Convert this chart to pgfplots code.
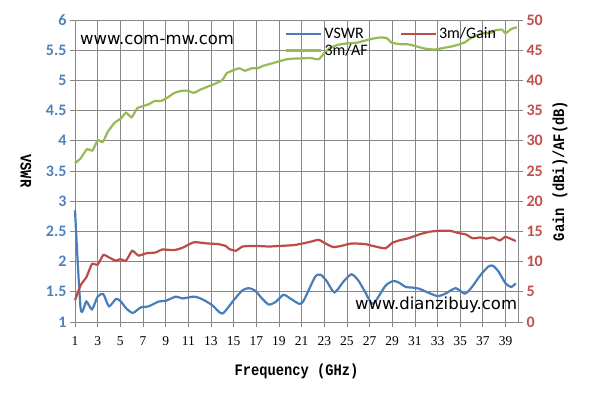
\documentclass[border=0pt]{standalone}
\usepackage{fontspec}
\setmainfont{Liberation Serif}
\newfontfamily\calibri{Carlito}
\newfontfamily\webfont{DejaVu Sans}
\newfontfamily\labfont[FakeStretch=0.86]{Liberation Mono}
\usepackage{pgfplots}
\pgfplotsset{compat=1.18}

\definecolor{vswrblue}{HTML}{4A7EBB}
\definecolor{gainred}{HTML}{BE4B48}
\definecolor{afgreen}{HTML}{98B954}
\definecolor{tickblue}{HTML}{4F81BD}
\definecolor{tickred}{HTML}{C0504D}
\definecolor{gridgray}{HTML}{868686}

\pgfplotsset{
  chartbase/.style={
    scale only axis, width=443bp, height=302bp,
    at={(0,0)}, anchor=south west,
    xmin=1, xmax=40.1, clip=false,
    tick align=outside, major tick length=5bp,
    axis line style={gridgray, line width=0.8bp},
    every tick/.style={gridgray, line width=0.8bp},
    /pgf/number format/assume math mode=true,
  },
}

\begin{document}
\begin{tikzpicture}
\useasboundingbox (-75bp,-82bp) rectangle (514bp,322bp);

% left axis: VSWR
\begin{axis}[chartbase,
    ymin=1, ymax=6,
    ytick={1,1.5,2,2.5,3,3.5,4,4.5,5,5.5,6},
    xtick={1,3,...,39},
    axis x line*=bottom, axis y line*=left,
    grid=major, major grid style={gridgray, line width=0.8bp},
    yticklabel style={font=\calibri\bfseries\fontsize{16bp}{16bp}\selectfont, text=tickblue},
    xticklabel style={font=\fontsize{13.5bp}{14bp}\selectfont, yshift=-6bp},
    xlabel={Frequency (GHz)},
    xlabel style={font=\labfont\bfseries\fontsize{16bp}{16bp}\selectfont,
        at={(axis description cs:0.5,-0.162)}, anchor=center},
    ylabel={VSWR},
    ylabel style={font=\labfont\bfseries\fontsize{16bp}{16bp}\selectfont,
        at={(axis description cs:-0.111,0.5)}, anchor=center, rotate=180},
]
\addplot[vswrblue, line width=2.2bp, smooth, tension=0.4] coordinates {
  (1,2.85) (1.5,1.22) (2,1.34) (2.5,1.21) (3,1.42) (3.5,1.46) (4,1.26)
  (4.6,1.38) (5,1.35) (5.5,1.23) (6.1,1.15) (6.8,1.24) (7.5,1.26)
  (8.4,1.34) (9,1.35) (9.9,1.42) (10.5,1.39) (11.5,1.42) (12.2,1.38)
  (13.1,1.28) (14,1.14) (15,1.36) (15.75,1.52) (16.3,1.56) (16.9,1.52)
  (17.5,1.39) (18.1,1.29) (18.7,1.33) (19.4,1.45) (20,1.39) (20.8,1.30)
  (21.2,1.36) (22.2,1.75) (22.7,1.78) (23.2,1.68) (23.9,1.49) (24.7,1.67)
  (25.4,1.79) (26,1.69) (26.6,1.5) (27.3,1.3) (28.4,1.6) (29.1,1.68)
  (29.6,1.65) (30.2,1.58) (30.8,1.57) (31.4,1.55) (32,1.5) (33,1.43)
  (33.7,1.47) (34.6,1.56) (35.4,1.47) (36,1.57) (36.8,1.78) (37.5,1.92)
  (37.9,1.93) (38.4,1.83) (39,1.64) (39.5,1.58) (39.9,1.64)
};
\end{axis}

% right axis: Gain and AF
\begin{axis}[chartbase,
    ymin=0, ymax=50, ytick={0,5,...,50},
    axis y line*=right, axis x line=none,
    yticklabel style={font=\calibri\bfseries\fontsize{16bp}{16bp}\selectfont, text=tickred},
    ylabel={Gain (dBi)/AF(dB)},
    ylabel style={font=\labfont\bfseries\fontsize{16bp}{16bp}\selectfont,
        at={(axis description cs:1.095,0.5)}, anchor=center},
    legend columns=2,
    legend cell align=left,
    legend image code/.code={\draw[#1, line width=2.4bp] (0bp,0bp) -- (35bp,0bp);},
    legend style={draw=none, fill=none, inner sep=0pt,
        at={(rel axis cs:0.474,0.982)}, anchor=north west,
        font=\calibri\fontsize{16bp}{16bp}\selectfont,
        /tikz/every even column/.append style={column sep=30bp}},
]
\addlegendimage{vswrblue}
\addlegendentry{VSWR}
\addplot[gainred, line width=2.2bp, smooth, tension=0.3] coordinates {
  (1,3.6) (1.5,6.1) (2,7.4) (2.5,9.6) (3,9.5) (3.5,11.1) (4,10.7)
  (4.6,10.15) (5,10.4) (5.5,10.15) (6.05,11.8) (6.6,11.0) (7.35,11.4)
  (8.1,11.5) (8.7,12.0) (9.75,11.9) (10.5,12.3) (11.5,13.2) (12.7,13.0)
  (13.6,12.9) (14.3,12.6) (14.6,12.1) (15.2,11.8) (15.8,12.5) (16.9,12.6)
  (18.1,12.5) (19.2,12.6) (20.4,12.75) (21.6,13.2) (22.5,13.6) (23.1,13.0)
  (23.8,12.4) (24.5,12.6) (25.4,13.0) (26.6,12.9) (27.5,12.5) (28.4,12.2)
  (29,13.1) (29.6,13.5) (30.4,13.85) (31.4,14.5) (32.3,14.95) (33.2,15.1)
  (34.1,15.1) (34.9,14.7) (35.5,14.5) (36.1,13.85) (36.8,14.0) (37.3,13.8)
  (37.9,14.0) (38.5,13.5) (39,14.1) (39.9,13.4)
};
\addlegendentry{3m/Gain}
\addplot[afgreen, line width=2.2bp, smooth, tension=0.3] coordinates {
  (1,26.3) (1.5,27.1) (2.05,28.6) (2.55,28.4) (3,30.1) (3.45,29.8)
  (3.9,31.5) (4.5,33.0) (5.05,33.7) (5.5,34.65) (6,33.9) (6.5,35.4)
  (7.1,35.8) (7.55,36.1) (8.05,36.6) (8.6,36.6) (9.2,37.2) (9.75,37.9)
  (10.35,38.25) (10.9,38.3) (11.5,37.96) (12.1,38.5) (12.7,38.96)
  (13.3,39.4) (14,40.06) (14.4,41.2) (15,41.7) (15.5,42.0) (16,41.6)
  (16.6,42.0) (17.1,42.0) (17.6,42.4) (18.35,42.8) (19.1,43.2) (19.7,43.5)
  (20.25,43.6) (21,43.65) (21.8,43.7) (22.5,43.5) (23,44.5) (23.45,45.3)
  (24.2,45.9) (24.9,46.1) (25.9,46.25) (27,46.8) (27.9,47.1) (28.5,47.0)
  (28.95,46.25) (29.7,46.0) (30.3,46.0) (30.6,45.9) (31.2,45.6) (31.8,45.3)
  (32.7,45.1) (33.6,45.4) (34.2,45.6) (34.8,45.9) (35.4,46.3) (36.1,47.2)
  (37,47.8) (37.7,47.85) (38.1,48.3) (38.7,48.4) (39,47.8) (39.5,48.5)
  (40,48.8)
};
\addlegendentry{3m/AF}
\node[anchor=base west, inner sep=0pt, font=\webfont\fontsize{16.5bp}{16.5bp}\selectfont]
  at (rel axis cs:0.011,0.92) {www.com-mw.com};
\node[anchor=base west, inner sep=0pt, font=\webfont\fontsize{16.5bp}{16.5bp}\selectfont]
  at (rel axis cs:0.632,0.04) {www.dianzibuy.com};
\end{axis}
\end{tikzpicture}
\end{document}
